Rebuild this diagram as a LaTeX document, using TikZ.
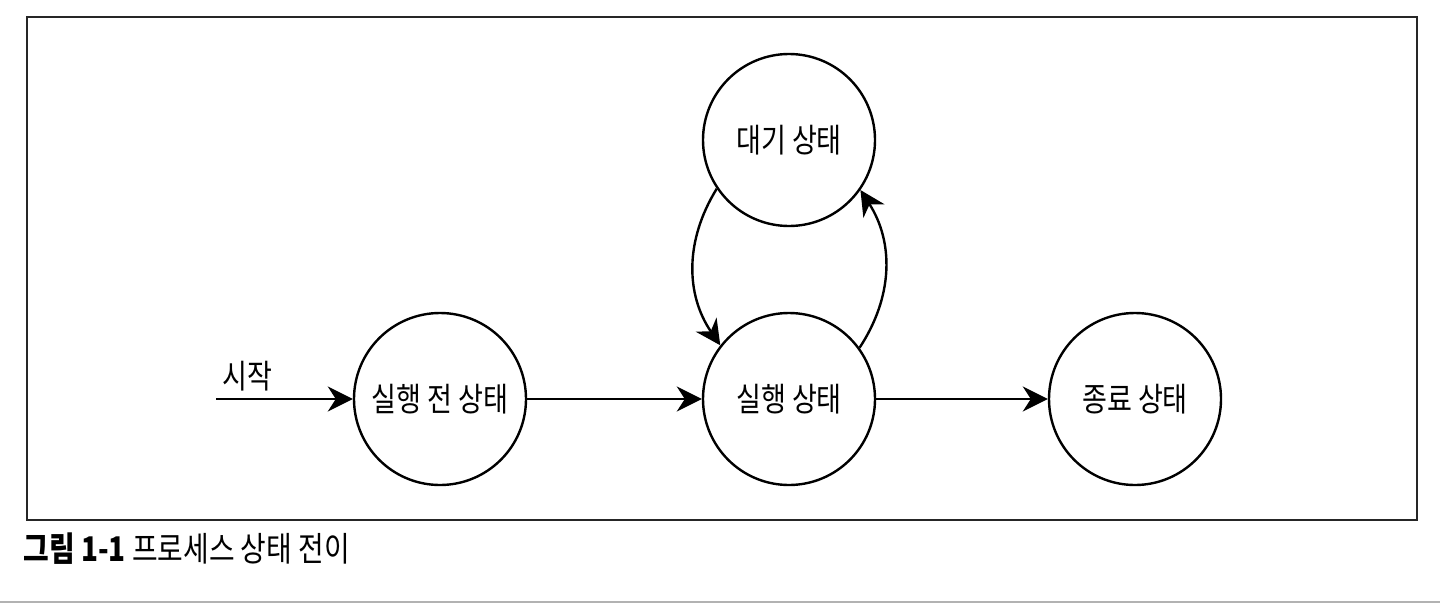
\documentclass[tikz,border=0pt]{standalone}
\usepackage{fontspec}
\setmainfont{Noto Sans CJK KR}[FakeStretch=0.82]
\usetikzlibrary{arrows.meta,positioning}

\begin{document}
\begin{tikzpicture}[x=1pt,y=-1pt,>={Stealth[length=25pt,width=25pt,inset=8pt]},line width=2.4pt,
    state/.style={circle,draw,minimum size=172pt,inner sep=0pt,font=\fontsize{33}{36}\selectfont},
    node distance=349pt]
   \useasboundingbox (0,0) rectangle (1440,603);
   \draw[line width=1.6pt,black!85] (27,17) rectangle (1417,520);
   \draw[line width=2pt,black!30] (0,602) -- (1440,602);

   \node[state] (pre) at (440,399)       {실행 전 상태};
   \node[state] (run)  [right of=pre]    {실행 상태};
   \node[state] (end)  [right of=run,node distance=346pt] {종료 상태};
   \node[state] (wait) [above of=run,node distance=259pt] {대기 상태};
   \coordinate (start) at (216,399);
   \node[font=\fontsize{33}{36}\selectfont] (startlabel) at (247,376) {시작};

   \path[->]
      (start) edge (pre)
      (pre) edge (run)
      (run) edge (end)
      (wait.214) edge [bend right=33] (run.142)
      (run.36) edge [bend right=33] (wait.325);

   \node[anchor=west,font=\fontsize{34}{36}\selectfont] (caption) at (19,549) {\textbf{그림 1-1} 프로세스 상태 전이};
\end{tikzpicture}
\end{document}
